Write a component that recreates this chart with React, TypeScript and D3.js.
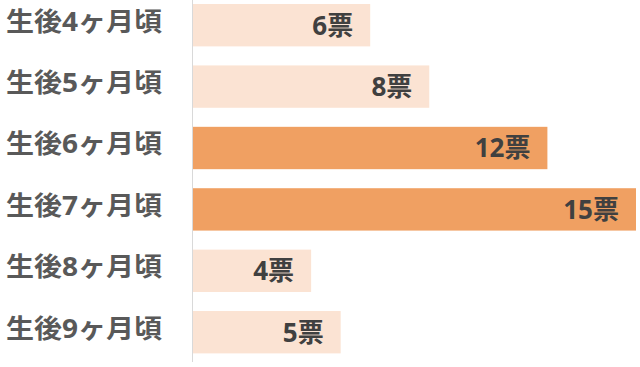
import React from "react";
import * as d3 from "d3";

const categories = ["生後4ヶ月頃", "生後5ヶ月頃", "生後6ヶ月頃", "生後7ヶ月頃", "生後8ヶ月頃", "生後9ヶ月頃"];
const votes = [6, 8, 12, 15, 4, 5];
const highlighted = [false, false, true, true, false, false];
const unit = "票";

const W = 640;
const H = 367;
const FONT = "'Open Sans', 'Noto Sans CJK JP', 'Noto Sans', sans-serif";

export default function App() {
  const x = d3.scaleLinear().domain([0, 15]).range([193, 636]);
  const y = d3
    .scaleBand<string>()
    .domain(categories)
    .range([-5.5, 362.9])
    .paddingInner(0.31)
    .paddingOuter(0.155);

  return (
    <svg
      width={W}
      height={H}
      style={{ position: "absolute", left: 0, top: 0, background: "#fff" }}
      fontFamily={FONT}
    >
      {categories.map((c, i) => {
        const y0 = y(c)!;
        const bw = y.bandwidth();
        return (
          <g key={c}>
            <rect
              x={x(0)}
              y={y0}
              width={x(votes[i]) - x(0)}
              height={bw}
              fill={highlighted[i] ? "#F0A062" : "#FBE3D3"}
            />
            <text
              x={x(votes[i]) - 17}
              y={y0 + bw / 2}
              dy="0.36em"
              textAnchor="end"
              fontSize={26}
              fontWeight={700}
              fill="#404040"
            >
              {votes[i]}
              {unit}
            </text>
            <text
              x={6}
              y={y0 + bw / 2 - 4}
              dy="0.36em"
              textAnchor="start"
              fontSize={26}
              fontWeight={700}
              fill="#595959"
              textLength={156}
              lengthAdjust="spacingAndGlyphs"
            >
              {c}
            </text>
          </g>
        );
      })}
      <line x1={x(0) - 0.5} x2={x(0) - 0.5} y1={0} y2={362} stroke="#D9D9D9" strokeWidth={1} />
    </svg>
  );
}
